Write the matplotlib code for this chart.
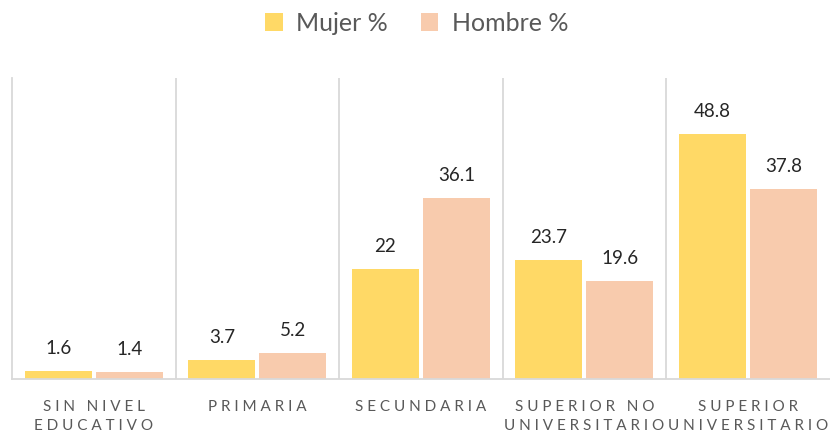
import matplotlib.pyplot as plt
import numpy as np

categories = ['SIN NIVEL\nEDUCATIVO', 'PRIMARIA', 'SECUNDARIA',
              'SUPERIOR NO\nUNIVERSITARIO', 'SUPERIOR\nUNIVERSITARIO']
mujer = [1.6, 3.7, 22, 23.7, 48.8]
hombre = [1.4, 5.2, 36.1, 19.6, 37.8]
labels_mujer = ['1.6', '3.7', '22', '23.7', '48.8']
labels_hombre = ['1.4', '5.2', '36.1', '19.6', '37.8']

c_mujer = '#FFD966'
c_hombre = '#F8CBAD'
grid_c = '#D9D9D9'
text_c = '#262626'


def spaced(s):
    # mimic the letter spacing of the axis labels
    lines = []
    for line in s.split('\n'):
        words = [' '.join(w) for w in line.split(' ')]
        lines.append('   '.join(words))
    return '\n'.join(lines)


plt.rcParams['font.family'] = ['Lato', 'DejaVu Sans']

fig = plt.figure(figsize=(8.3, 4.37), dpi=100)
ax = fig.add_axes([0.0145, 0.133, 0.985, 0.6885])

x = np.arange(len(categories))
w = 0.41
off = 0.217
b1 = ax.bar(x - off, mujer, w, color=c_mujer, label='Mujer %')
b2 = ax.bar(x + off, hombre, w, color=c_hombre, label='Hombre %')

for bars, labs in ((b1, labels_mujer), (b2, labels_hombre)):
    for r, t in zip(bars, labs):
        ax.text(r.get_x() + r.get_width() / 2, r.get_height() + 2.8, t,
                ha='center', va='bottom', fontsize=13.5, color=text_c)

ax.set_xlim(-0.5, len(categories) - 0.5)
ax.set_ylim(0, 60)
ax.set_yticks([])
ax.set_xticks(x)
ax.set_xticklabels([spaced(c) for c in categories], fontsize=11,
                   color='#595959', linespacing=1.5)
ax.tick_params(axis='x', length=0, pad=15)

for sep in np.arange(0.5, len(categories) - 1, 1.0):
    ax.axvline(sep, color=grid_c, lw=1.3, zorder=0)
for side in ('top', 'right'):
    ax.spines[side].set_visible(False)
ax.spines['left'].set_color(grid_c)
ax.spines['left'].set_linewidth(1.3)
ax.spines['bottom'].set_color(grid_c)
ax.spines['bottom'].set_linewidth(1.3)

fig.legend(loc='upper center', bbox_to_anchor=(0.502, 1.025), ncol=2,
           frameon=False, fontsize=18, handlelength=0.7, handleheight=0.7,
           handletextpad=0.55, columnspacing=1.3, labelcolor='#595959')

fig.savefig('out.png', dpi=100)
